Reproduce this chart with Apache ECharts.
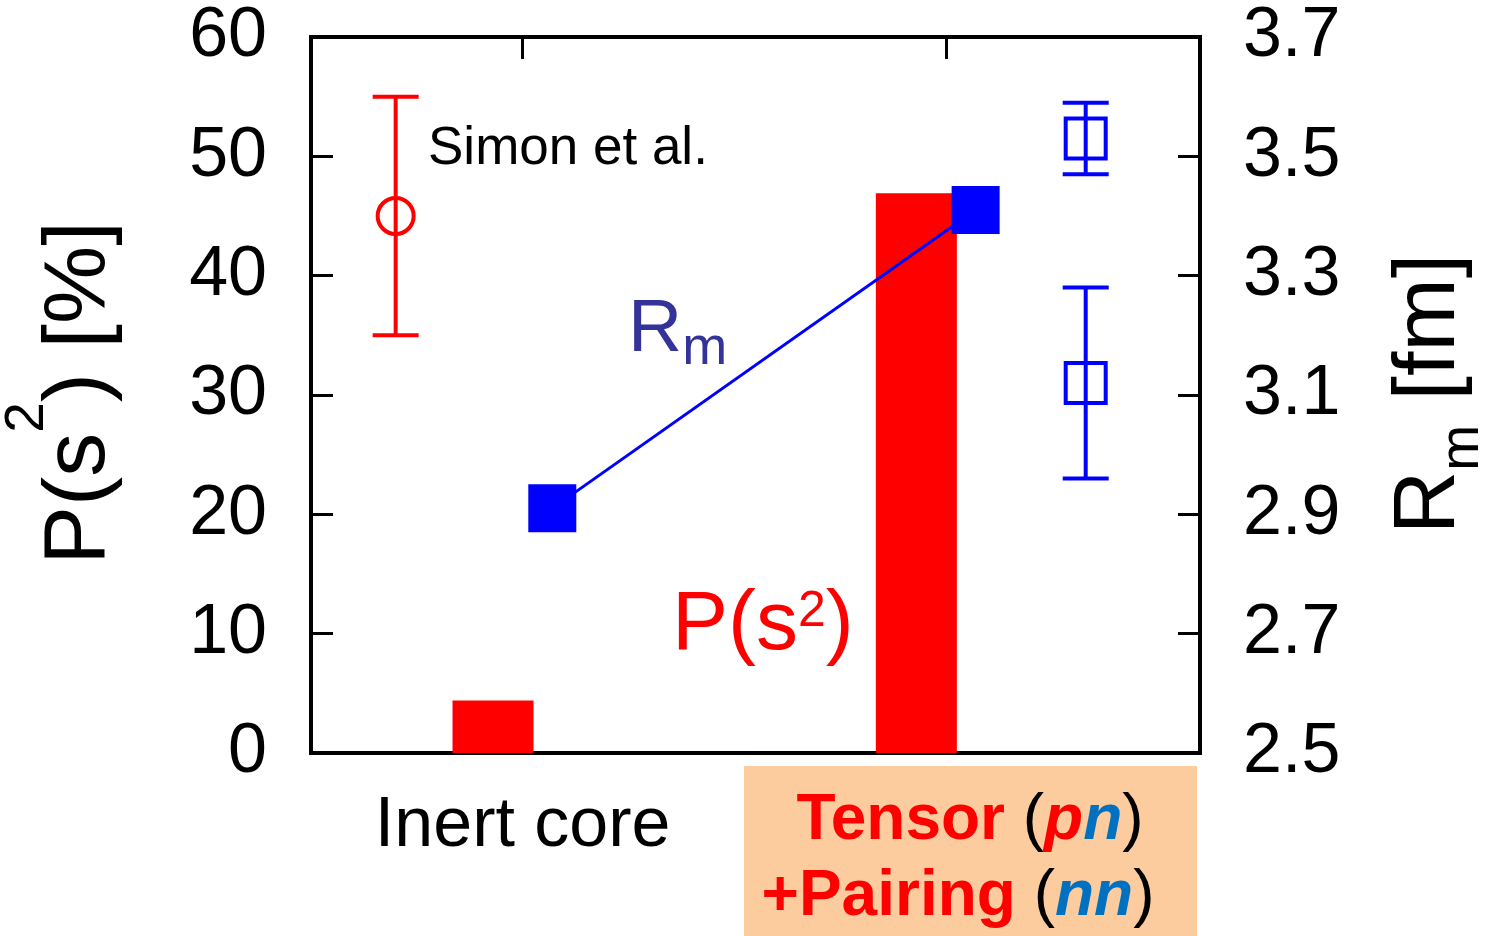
<!DOCTYPE html>
<html>
<head>
<meta charset="utf-8">
<title>P(s2) and Rm</title>
<script src="https://cdn.jsdelivr.net/npm/echarts@6/dist/echarts.min.js"></script>
<style>
html, body { margin: 0; padding: 0; background: #fff; }
#chart { width: 1493px; height: 936px; }
</style>
</head>
<body>
<div id="chart"></div>
<script>
// P(s^2) bars, left axis [%]
var barX = [-0.07, 0.93];
var barP = [4.4, 46.9];
// calculated Rm, right axis [fm]
var rmX = [0.07, 1.07];
var rmCalc = [2.91, 3.41];
// Simon et al. P(s^2) with error bar
var simonX = [-0.30];
var simonP = [45];
var simonLo = [35];
var simonHi = [55];
// measured Rm with error bars
var expX = [1.33, 1.33];
var expRm = [3.53, 3.12];
var expLo = [3.47, 2.96];
var expHi = [3.59, 3.28];
// axis ticks / labels
var rightTicks = [2.5, 2.7, 2.9, 3.1, 3.3, 3.5, 3.7];
var topTicks = [0, 1];
var catPos = [0];
var catNames = ['Inert core'];

var FONT = 'Liberation Sans, Arial, Helvetica, sans-serif';

var chart = echarts.init(document.getElementById('chart'));

function zip3(xs, ys, lo, hi) {
    var out = [];
    for (var i = 0; i < xs.length; i++) {
        out.push(hi ? [xs[i], ys[i], lo[i], hi[i]] : [xs[i], ys[i]]);
    }
    return out;
}

// error bar with open marker (circle or square)
function errRender(shape, color, size) {
    return function (params, api) {
        var c = api.coord([api.value(0), api.value(1)]);
        var lo = api.coord([api.value(0), api.value(2)]);
        var hi = api.coord([api.value(0), api.value(3)]);
        var hw = 23;
        var ls = { stroke: color, lineWidth: 4 };
        var kids = [
            { type: 'line', shape: { x1: c[0], y1: lo[1], x2: c[0], y2: hi[1] }, style: ls },
            { type: 'line', shape: { x1: c[0] - hw, y1: lo[1], x2: c[0] + hw, y2: lo[1] }, style: ls },
            { type: 'line', shape: { x1: c[0] - hw, y1: hi[1], x2: c[0] + hw, y2: hi[1] }, style: ls }
        ];
        if (shape === 'circle') {
            kids.push({ type: 'circle', shape: { cx: c[0], cy: c[1], r: size / 2 },
                style: { stroke: color, lineWidth: 4, fill: null } });
        } else {
            kids.push({ type: 'rect', shape: { x: c[0] - size / 2, y: c[1] - size / 2, width: size, height: size },
                style: { stroke: color, lineWidth: 4, fill: null } });
        }
        return { type: 'group', children: kids };
    };
}

var axisLine = { show: true, onZero: false, lineStyle: { color: '#000', width: 4, cap: 'square' } };
var tickIn = { show: true, inside: true, length: 22, lineStyle: { color: '#000', width: 3 } };
var labelStyle = { color: '#000', fontSize: 70, fontFamily: FONT };

var option = {
    animation: false,
    backgroundColor: '#fff',
    grid: { left: 311, right: 293, top: 37, bottom: 183 },
    xAxis: [{
        type: 'value',
        min: -0.5,
        max: 1.6,
        position: 'bottom',
        axisLine: axisLine,
        axisTick: { show: false },
        splitLine: { show: false },
        axisLabel: Object.assign({
            customValues: catPos,
            margin: 39,
            formatter: function (v) {
                var i = catPos.indexOf(v);
                return i >= 0 ? catNames[i] : '';
            }
        }, labelStyle)
    }, {
        type: 'value',
        min: -0.5,
        max: 1.6,
        position: 'top',
        axisLine: axisLine,
        axisTick: Object.assign({ customValues: topTicks }, tickIn),
        splitLine: { show: false },
        axisLabel: { show: false }
    }],
    yAxis: [{
        type: 'value',
        min: 0,
        max: 60,
        interval: 10,
        position: 'left',
        axisLine: axisLine,
        axisTick: tickIn,
        splitLine: { show: false },
        axisLabel: Object.assign({ margin: 44 }, labelStyle)
    }, {
        type: 'value',
        min: 2.5,
        max: 3.7,
        position: 'right',
        axisLine: axisLine,
        axisTick: Object.assign({ customValues: rightTicks }, tickIn),
        splitLine: { show: false },
        axisLabel: Object.assign({
            customValues: rightTicks,
            margin: 43,
            formatter: function (v) { return v.toFixed(1); }
        }, labelStyle)
    }],
    series: [{
        name: 'P(s2)',
        type: 'bar',
        xAxisIndex: 0,
        yAxisIndex: 0,
        barWidth: 81,
        itemStyle: { color: '#ff0000' },
        data: zip3(barX, barP),
        z: 2
    }, {
        name: 'Simon et al.',
        type: 'custom',
        xAxisIndex: 0,
        yAxisIndex: 0,
        renderItem: errRender('circle', '#ff0000', 36),
        data: zip3(simonX, simonP, simonLo, simonHi),
        z: 3
    }, {
        name: 'Rm',
        type: 'line',
        xAxisIndex: 0,
        yAxisIndex: 1,
        symbol: 'rect',
        symbolSize: 48,
        itemStyle: { color: '#0000ff' },
        lineStyle: { color: '#0000ff', width: 3 },
        data: zip3(rmX, rmCalc),
        z: 5
    }, {
        name: 'Rm exp',
        type: 'custom',
        xAxisIndex: 0,
        yAxisIndex: 1,
        renderItem: errRender('rect', '#0000ff', 40),
        data: zip3(expX, expRm, expLo, expHi),
        z: 4
    }],
    graphic: [{
        type: 'text',
        x: 80, y: 393,
        rotation: Math.PI / 2,
        style: {
            text: '{a|P(s}{s|2}{a|) [%]}',
            align: 'center', verticalAlign: 'middle',
            rich: {
                a: { fontSize: 88, fontFamily: FONT, fill: '#000', lineHeight: 159, verticalAlign: 'middle' },
                s: { fontSize: 55, fontFamily: FONT, fill: '#000', verticalAlign: 'top' }
            }
        }
    }, {
        type: 'text',
        x: 1430, y: 394,
        rotation: Math.PI / 2,
        style: {
            text: '{a|R}{s|m}{a| [fm]}',
            align: 'center', verticalAlign: 'middle',
            rich: {
                a: { fontSize: 88, fontFamily: FONT, fill: '#000', lineHeight: 120, verticalAlign: 'middle' },
                s: { fontSize: 55, fontFamily: FONT, fill: '#000', verticalAlign: 'bottom' }
            }
        }
    }, {
        type: 'text',
        x: 428, y: 149,
        style: {
            text: 'Simon et al.',
            fontSize: 53, fontFamily: FONT, fill: '#000',
            align: 'left', verticalAlign: 'middle'
        }
    }, {
        type: 'text',
        x: 628, y: 330,
        style: {
            text: '{a|R}{s|m}',
            align: 'left', verticalAlign: 'middle',
            rich: {
                a: { fontSize: 75, fontFamily: FONT, fill: '#333399', lineHeight: 92, verticalAlign: 'middle' },
                s: { fontSize: 54, fontFamily: FONT, fill: '#333399', verticalAlign: 'bottom' }
            }
        }
    }, {
        type: 'text',
        x: 672, y: 626,
        style: {
            text: '{a|P(s}{s|2}{a|)}',
            align: 'left', verticalAlign: 'middle',
            rich: {
                a: { fontSize: 84, fontFamily: FONT, fill: '#ff0000', lineHeight: 78, verticalAlign: 'middle' },
                s: { fontSize: 50, fontFamily: FONT, fill: '#ff0000', verticalAlign: 'top' }
            }
        }
    }, {
        type: 'rect',
        shape: { x: 744, y: 766, width: 453, height: 170 },
        style: { fill: '#fccc9e' },
        z: -1
    }, {
        type: 'text',
        x: 970, y: 821,
        style: {
            text: '{r|Tensor }{k|(}{p|p}{n|n}{k|)}',
            align: 'center', verticalAlign: 'middle',
            rich: {
                r: { fontSize: 64, fontFamily: FONT, fontWeight: 'bold', fill: '#ff0000' },
                k: { fontSize: 64, fontFamily: FONT, fill: '#000' },
                p: { fontSize: 64, fontFamily: FONT, fontWeight: 'bold', fontStyle: 'italic', fill: '#ff0000' },
                n: { fontSize: 64, fontFamily: FONT, fontWeight: 'bold', fontStyle: 'italic', fill: '#0070c0' }
            }
        }
    }, {
        type: 'text',
        x: 958, y: 897,
        style: {
            text: '{r|+Pairing }{k|(}{n|nn}{k|)}',
            align: 'center', verticalAlign: 'middle',
            rich: {
                r: { fontSize: 64, fontFamily: FONT, fontWeight: 'bold', fill: '#ff0000' },
                k: { fontSize: 64, fontFamily: FONT, fill: '#000' },
                n: { fontSize: 64, fontFamily: FONT, fontWeight: 'bold', fontStyle: 'italic', fill: '#0070c0' }
            }
        }
    }]
};

chart.setOption(option);
</script>
</body>
</html>
